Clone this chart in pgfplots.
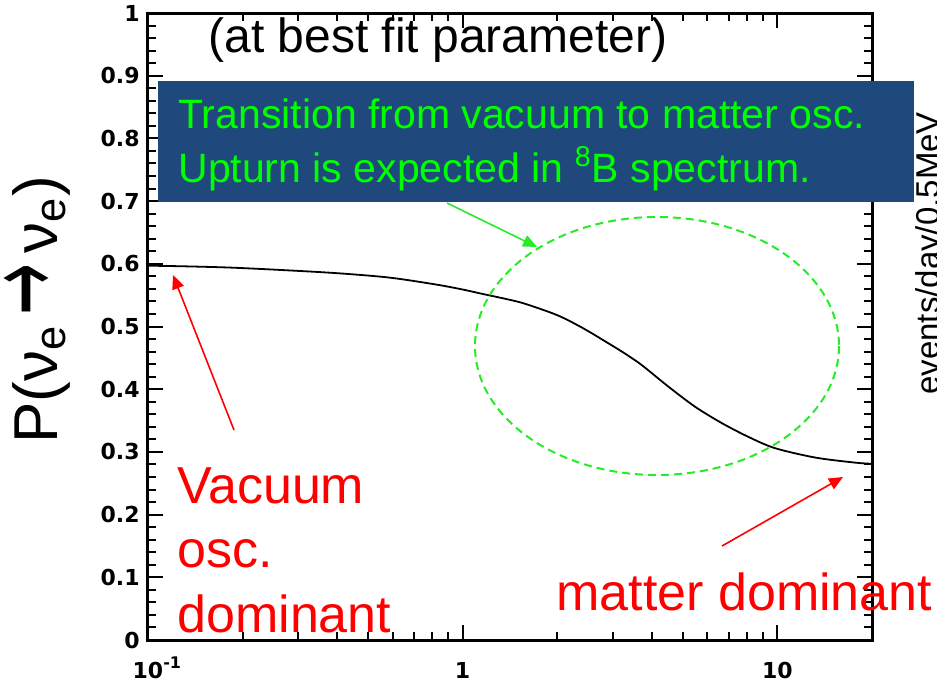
\documentclass[border=0pt]{standalone}
\usepackage{fontspec}
\setmainfont{Liberation Sans}
\newfontfamily\tickfont{DejaVu Sans}
\usepackage{pgfplots}
\pgfplotsset{compat=1.18}
\usetikzlibrary{arrows.meta}
\definecolor{boxblue}{RGB}{31,73,125}
\definecolor{brightgreen}{RGB}{0,255,0}
\definecolor{ellgreen}{RGB}{40,235,40}

\pgfplotstableread{
x y
0.1 0.597
0.13 0.596
0.182 0.594
0.268 0.590
0.40 0.585
0.585 0.578
0.822 0.567
1.0 0.559
1.156 0.552
1.40 0.543
1.585 0.536
2.0 0.518
2.40 0.498
2.91 0.473
3.3 0.456
3.72 0.438
4.51 0.404
5.48 0.372
6.66 0.346
8.09 0.324
9.83 0.306
13.2 0.291
17.6 0.283
20 0.281
}\probtable

\begin{document}
\begin{tikzpicture}
\begin{scope}[shift={(-74pt,320pt)}, x=0.5pt, y=-0.5pt]
\useasboundingbox (0,0) rectangle (937,682);
\end{scope}
\begin{axis}[
  xmode=log, xmin=0.1, xmax=20, ymin=0, ymax=1,
  scale only axis, width=362pt, height=313.5pt,
  axis line style={line width=1.5pt},
  tick align=inside, major tick length=7.5pt, minor tick length=4pt,
  tick style={line width=1pt, black},
  xtick={0.1,1,10},
  xticklabels={10\rlap{\raisebox{5pt}{\fontsize{8}{8}\selectfont -1}},1,10},
  minor xtick={0.2,0.3,0.4,0.5,0.6,0.7,0.8,0.9,2,3,4,5,6,7,8,9},
  ytick={0,0.1,0.2,0.3,0.4,0.5,0.6,0.7,0.8,0.9,1},
  yticklabels={0,0.1,0.2,0.3,0.4,0.5,0.6,0.7,0.8,0.9,1},
  minor y tick num=4,
  ticklabel style={font=\tickfont\bfseries\fontsize{11}{13}\selectfont},
  yticklabel style={anchor=east, inner sep=0pt, xshift=-4pt},
  xticklabel style={anchor=base, inner sep=0pt, yshift=-19pt},
]
\addplot[black, line width=0.9pt, smooth] table[x=x, y=y] {\probtable};
\end{axis}
\begin{scope}[shift={(-74pt,320pt)}, x=0.5pt, y=-0.5pt]
  % y label
  \node[rotate=90, anchor=base, inner sep=0pt, font=\fontsize{31}{31}\selectfont] at (58,310) {P(ν\textsubscript{e}\,{\tickfont\raisebox{-1pt}{\scalebox{1}[1.7]{→}}}\,ν\textsubscript{e})};
  % right cut-off label
  \node[overlay, rotate=90, anchor=base west, inner sep=0pt, font=\fontsize{16.5}{16.5}\selectfont] at (939,395) {events/day/0.5MeV};
  % subtitle
  \node[anchor=base west, inner sep=0pt, font=\fontsize{24}{24}\selectfont] at (208,53) {(at best fit parameter)};
  % blue box
  \fill[boxblue] (158,81) rectangle (914,202);
  \node[anchor=base west, inner sep=0pt, text=brightgreen, font=\fontsize{20.5}{20.5}\selectfont] at (178,129) {Transition from vacuum to matter osc.};
  \node[anchor=base west, inner sep=0pt, text=brightgreen, font=\fontsize{20.5}{20.5}\selectfont] at (178,182) {Upturn is expected in \textsuperscript{8}B spectrum.};
  % green arrow and ellipse
  \draw[ellgreen, line width=0.8pt, -{Triangle[length=7pt,width=6pt]}] (447,203) -- (537,247);
  \draw[ellgreen, line width=1pt, dash pattern=on 4pt off 2.5pt] (657,346) ellipse [x radius=182, y radius=129];
  % red annotations
  \draw[red, line width=0.8pt, -{Triangle[length=7pt,width=6pt]}] (234,430) -- (173,275);
  \draw[red, line width=0.8pt, -{Triangle[length=7pt,width=6pt]}] (722,546) -- (843,477);
  \node[anchor=base west, inner sep=0pt, text=red, font=\fontsize{26}{26}\selectfont] at (177,503) {Vacuum};
  \node[anchor=base west, inner sep=0pt, text=red, font=\fontsize{26}{26}\selectfont] at (177,567) {osc.};
  \node[anchor=base west, inner sep=0pt, text=red, font=\fontsize{26}{26}\selectfont] at (177,632) {dominant};
  \node[anchor=base west, inner sep=0pt, text=red, font=\fontsize{26}{26}\selectfont] at (556,610) {matter dominant};
\end{scope}
\end{tikzpicture}
\end{document}
